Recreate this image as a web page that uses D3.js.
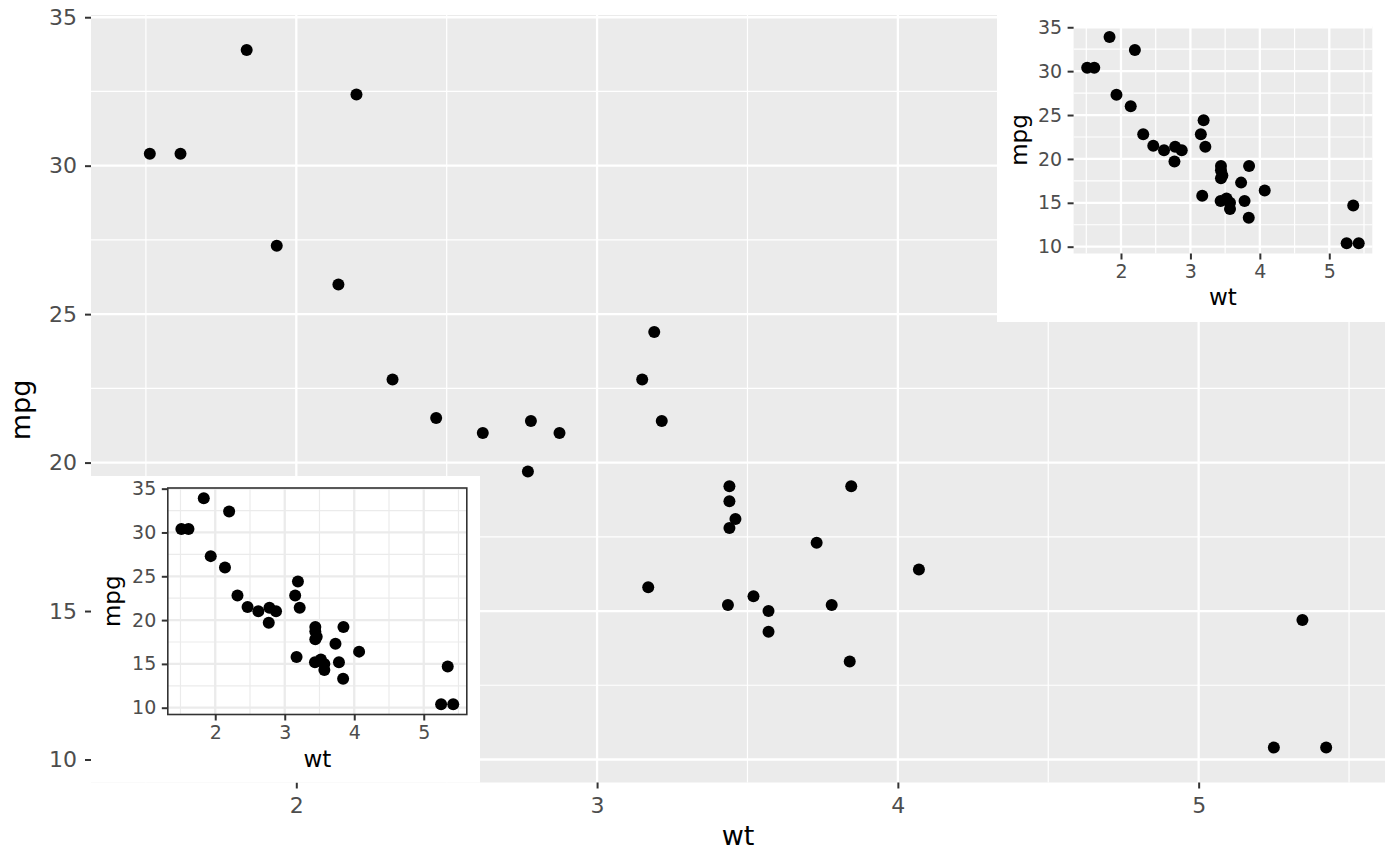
<!DOCTYPE html>
<html>
<head>
<meta charset="utf-8">
<script src="https://cdn.jsdelivr.net/npm/d3@7"></script>
<style>
	body { margin: 0; background: #fff; }
	svg { display: block; }
	text { font-family: "DejaVu Sans", sans-serif; }
</style>
</head>
<body>
<svg id="chart" width="1400" height="866"></svg>
<script>
// mtcars: weight (1000 lbs) vs miles per gallon
const wt = [2.620, 2.875, 2.320, 3.215, 3.440, 3.460, 3.570, 3.190, 3.150, 3.440, 3.440,
	4.070, 3.730, 3.780, 5.250, 5.424, 5.345, 2.200, 1.615, 1.835, 2.465, 3.520,
	3.435, 3.840, 3.845, 1.935, 2.140, 1.513, 3.170, 2.770, 3.570, 2.780];
const mpg = [21.0, 21.0, 22.8, 21.4, 18.7, 18.1, 14.3, 24.4, 22.8, 19.2, 17.8,
	16.4, 17.3, 15.2, 10.4, 10.4, 14.7, 32.4, 30.4, 33.9, 21.5, 15.5,
	15.2, 13.3, 19.2, 27.3, 26.0, 30.4, 15.8, 19.7, 15.0, 21.4];
const xTicks = [2, 3, 4, 5];
const yTicks = [10, 15, 20, 25, 30, 35];
const xMinor = [1.5, 2.5, 3.5, 4.5, 5.5];
const yMinor = [12.5, 17.5, 22.5, 27.5, 32.5];
const xTitle = 'wt';
const yTitle = 'mpg';

const cars = wt.map((w, i) => ({ wt: w, mpg: mpg[i] }));
const expand = (lo, hi) => [lo - (hi - lo) * 0.05, hi + (hi - lo) * 0.05];
const xDom = expand(d3.min(wt), d3.max(wt));
const yDom = expand(d3.min(mpg), d3.max(mpg));

const svg = d3.select('#chart');

const drawPlot = o => {
	let g = svg.append('g');
	if (o.bg) {
		g.append('rect').attr('x', o.bg[0]).attr('y', o.bg[1])
			.attr('width', o.bg[2]).attr('height', o.bg[3]).attr('fill', '#fff');
	}
	let x = d3.scaleLinear().domain(xDom).range([o.left, o.right]),
		y = d3.scaleLinear().domain(yDom).range([o.bottom, o.top]);

	g.append('rect')
		.attr('x', o.left).attr('y', o.top)
		.attr('width', o.right - o.left).attr('height', o.bottom - o.top)
		.attr('fill', o.bw ? '#fff' : '#EBEBEB');

	let gridCol = o.bw ? '#EBEBEB' : '#fff';
	let vgrid = (vals, w) => {
		g.append('g').selectAll('line').data(vals).join('line')
			.attr('x1', d => x(d)).attr('x2', d => x(d))
			.attr('y1', o.top).attr('y2', o.bottom)
			.attr('stroke', gridCol).attr('stroke-width', w);
	};
	let hgrid = (vals, w) => {
		g.append('g').selectAll('line').data(vals).join('line')
			.attr('y1', d => y(d)).attr('y2', d => y(d))
			.attr('x1', o.left).attr('x2', o.right)
			.attr('stroke', gridCol).attr('stroke-width', w);
	};
	vgrid(xMinor, 1.2);
	hgrid(yMinor, 1.2);
	vgrid(xTicks, 2.3);
	hgrid(yTicks, 2.3);

	g.append('g').selectAll('circle').data(cars).join('circle')
		.attr('cx', d => x(d.wt)).attr('cy', d => y(d.mpg))
		.attr('r', o.r).attr('fill', '#000');

	if (o.bw) {
		g.append('rect')
			.attr('x', o.left).attr('y', o.top)
			.attr('width', o.right - o.left).attr('height', o.bottom - o.top)
			.attr('fill', 'none').attr('stroke', '#333333').attr('stroke-width', 1.6);
	}

	let style = ax => {
		ax.select('.domain').remove();
		ax.selectAll('.tick line').attr('stroke', '#333333').attr('stroke-width', 2);
		ax.selectAll('.tick text').attr('fill', '#4D4D4D')
			.style('font-size', o.tickFont + 'px').attr('font-family', null);
	};

	let xAxis = g.append('g')
		.attr('transform', 'translate(0,' + o.bottom + ')')
		.call(d3.axisBottom(x).tickValues(xTicks).tickSize(6).tickPadding(o.xPad).tickFormat(d3.format('d')));
	style(xAxis);

	let yAxis = g.append('g')
		.attr('transform', 'translate(' + o.left + ',0)')
		.call(d3.axisLeft(y).tickValues(yTicks).tickSize(6).tickPadding(o.yPad).tickFormat(d3.format('d')));
	style(yAxis);

	g.append('text')
		.attr('x', (o.left + o.right) / 2).attr('y', o.bottom + o.xTitleOff)
		.attr('text-anchor', 'middle').style('font-size', o.titleFont + 'px')
		.text(xTitle);

	g.append('text')
		.attr('transform', 'translate(' + (o.left - o.yTitleOff) + ',' + (o.yTitleY || (o.top + o.bottom) / 2) + ') rotate(-90)')
		.attr('text-anchor', 'middle').style('font-size', o.titleFont + 'px')
		.text(yTitle);
};

// main plot
drawPlot({
	left: 91, right: 1385, top: 15, bottom: 782.5,
	r: 6, tickFont: 22, titleFont: 27, xPad: 8.4, yPad: 8,
	xTitleOff: 62.5, yTitleOff: 61.4, yTitleY: 410
});

// inset, top right (grey theme)
drawPlot({
	bg: [997, 0, 403, 322],
	left: 1073.6, right: 1372.3, top: 26.6, bottom: 253.5,
	r: 6, tickFont: 19, titleFont: 23, xPad: 5.5, yPad: 5.5,
	xTitleOff: 51.5, yTitleOff: 47
});

// inset, bottom left (bw theme)
drawPlot({
	bg: [91, 476, 389, 306.5],
	left: 167.8, right: 466.8, top: 488, bottom: 714.5, bw: true,
	r: 6, tickFont: 19, titleFont: 23, xPad: 5.5, yPad: 5.5,
	xTitleOff: 52, yTitleOff: 48.2
});
</script>
</body>
</html>
